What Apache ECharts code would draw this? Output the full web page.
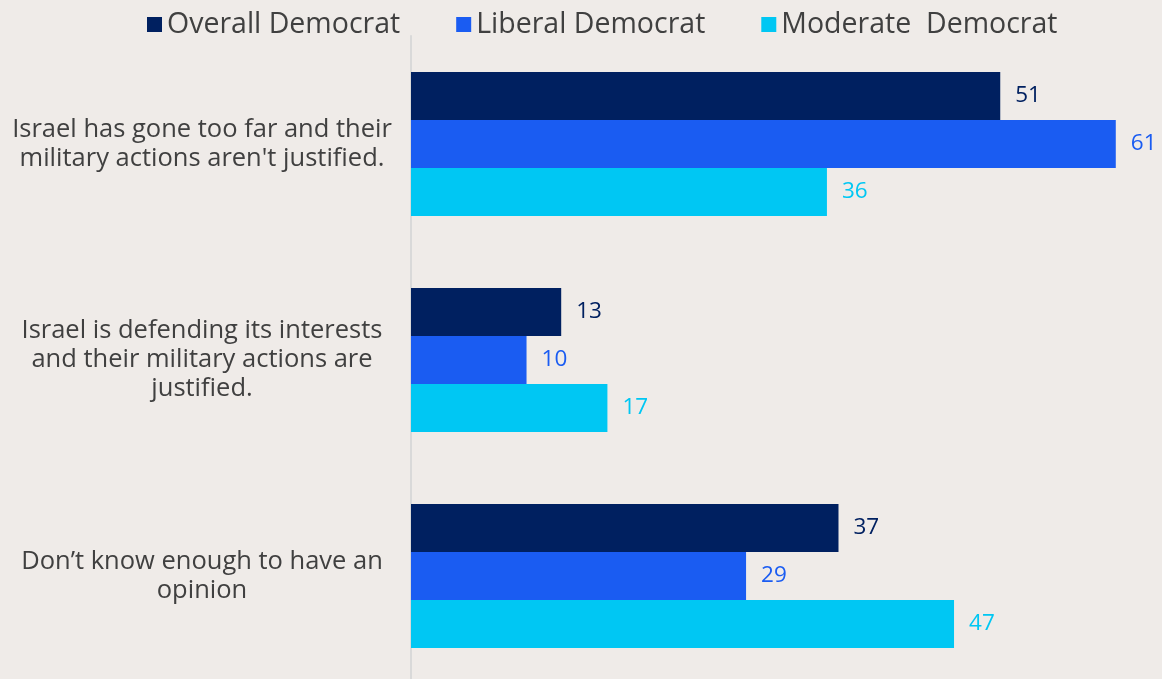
<!DOCTYPE html>
<html>
<head>
<meta charset="utf-8">
<script src="https://cdn.jsdelivr.net/npm/echarts@6/dist/echarts.min.js"></script>
<style>
html,body{margin:0;padding:0;background:#efebe8;}
#chart{width:1162px;height:679px;}
</style>
</head>
<body>
<div id="chart"></div>
<script>
const categories = [
  "Israel has gone too far and their\nmilitary actions aren't justified.",
  "Israel is defending its interests\nand their military actions are\njustified.",
  "Don’t know enough to have an\nopinion"
];
const seriesNames = ["Overall Democrat", "Liberal Democrat", "Moderate  Democrat"];
const overall = [51, 13, 37];
const liberal = [61, 10, 29];
const moderate = [36, 17, 47];
const colors = ["#002060", "#1a5cf2", "#00c7f3"];

const FONT = "'Open Sans', sans-serif";
const chart = echarts.init(document.getElementById('chart'));
const dataSets = [overall, liberal, moderate];
chart.setOption({
  backgroundColor: '#efebe8',
  animation: false,
  legend: {
    left: 142,
    top: 5,
    itemWidth: 15,
    itemHeight: 15,
    itemGap: 56,
    icon: 'rect',
    textStyle: {fontFamily: FONT, fontSize: 28.5, color: '#404040'},
    data: seriesNames
  },
  grid: {left: 411, right: 0, top: 36, height: 648, containLabel: false, outerBoundsMode: 'none'},
  xAxis: {
    type: 'value', min: 0, max: 65, show: false,
    splitLine: {show: false}
  },
  yAxis: {
    type: 'category', inverse: true, data: categories,
    axisTick: {show: false},
    axisLine: {show: true, lineStyle: {color: '#d9d9d9', width: 2}},
    axisLabel: {
      fontFamily: FONT, fontSize: 25.5, color: '#404040', lineHeight: 29,
      align: 'center', margin: 209
    }
  },
  series: seriesNames.map((n, i) => ({
    name: n,
    type: 'bar',
    data: dataSets[i],
    barWidth: 48,
    barGap: '0%',
    itemStyle: {color: colors[i]},
    label: {
      show: true, position: 'right', distance: 15,
      fontFamily: FONT, fontSize: 22.5, color: colors[i]
    }
  }))
});
</script>
</body>
</html>
